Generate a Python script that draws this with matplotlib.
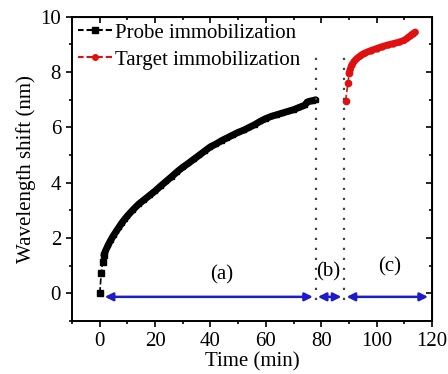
import numpy as np
import matplotlib.pyplot as plt
from matplotlib.lines import Line2D

# probe immobilization (black)
probe_t = [0, 0.5, 1, 1.5, 2, 3, 4, 5, 6, 7, 8, 9, 10, 12, 14, 16, 18, 20, 22, 24,
           26, 28, 30, 32, 34, 36, 38, 40, 42, 44, 46, 48, 50, 52, 54, 56, 58, 60,
           62, 64, 66, 68, 70, 72, 74, 75, 76, 77, 78]
probe_y = [0.0, 0.72, 1.12, 1.38, 1.52, 1.74, 1.93, 2.1, 2.25, 2.4, 2.55, 2.68, 2.8,
           3.02, 3.22, 3.38, 3.54, 3.7, 3.88, 4.05, 4.22, 4.4, 4.56, 4.7, 4.85, 5.0,
           5.15, 5.3, 5.4, 5.52, 5.62, 5.72, 5.82, 5.9, 6.0, 6.1, 6.22, 6.32, 6.4,
           6.46, 6.52, 6.58, 6.64, 6.72, 6.8, 6.92, 6.95, 6.97, 7.0]

# target immobilization (red)
target_t = [88.8, 89.7, 90.1, 90.5, 91, 92, 93, 94, 95, 96, 98, 100, 102, 104, 106,
            108, 110, 111, 112, 113, 114]
target_y = [6.96, 7.62, 7.96, 8.1, 8.25, 8.4, 8.5, 8.58, 8.65, 8.7, 8.78, 8.85, 8.92,
            8.98, 9.03, 9.08, 9.15, 9.22, 9.3, 9.38, 9.45]

# stage boundaries and labels
boundaries = [78.0, 88.3]
stage_spans = [(1.8, 77.0), (78.8, 87.3), (89.2, 118.6)]
stage_labels = ['(a)', '(b)', '(c)']
label_pos = [(44, 0.65), (82.5, 0.77), (104.8, 0.95)]

plt.rcParams['font.family'] = ['Liberation Serif', 'DejaVu Serif']
plt.rcParams['font.size'] = 15

black = 'black'
red = '#e01010'
blue = '#1c1cc8'

fig = plt.figure(figsize=(4.48, 3.74), dpi=100)
ax = fig.add_axes([0.161, 0.142, 0.803, 0.813])

# sparse start: thin dashed line with markers
ax.plot(probe_t[:4], probe_y[:4], color=black, lw=1.2, ls='--', marker='s', ms=4)
ax.plot(probe_t[3:], probe_y[3:], color=black, lw=5, solid_capstyle='round',
        solid_joinstyle='round')
ax.plot(probe_t[3:], probe_y[3:], color=black, lw=0, marker='s', ms=3.5)
ax.plot(target_t[:3], target_y[:3], color=red, lw=1.2, ls='--', marker='o', ms=4.5)
ax.plot(target_t[2:], target_y[2:], color=red, lw=5, solid_capstyle='round',
        solid_joinstyle='round')
ax.plot(target_t[2:], target_y[2:], color=red, lw=0, marker='o', ms=3.5)

for b in boundaries:
    ax.plot([b, b], [-0.25, 8.6], color='#444444', lw=1.6, ls=(0, (1, 3.5)))

for (x0, x1) in stage_spans:
    ax.annotate('', xy=(x1, -0.13), xytext=(x0, -0.13),
                arrowprops=dict(arrowstyle='<|-|>', color=blue, lw=1.8,
                                mutation_scale=12, shrinkA=0, shrinkB=0))
for lab, (x, y) in zip(stage_labels, label_pos):
    ax.text(x, y, lab, ha='center', va='center')

ax.set_xlim(-10, 120)
ax.set_ylim(-1, 10)
ax.set_xticks(np.arange(0, 121, 20))
ax.set_xticks(np.arange(-10, 121, 10), minor=True)
ax.set_yticks(np.arange(0, 11, 2))
ax.set_yticks(np.arange(-1, 11, 1), minor=True)
ax.tick_params(which='major', direction='out', length=4.5, width=1.2)
ax.tick_params(which='minor', direction='out', length=2.5, width=1.2)
for s in ax.spines.values():
    s.set_linewidth(1.4)

# mirrored inward ticks on top and right
top = ax.secondary_xaxis('top')
top.set_xticks(np.arange(0, 121, 20))
top.set_xticks(np.arange(-10, 121, 10), minor=True)
top.tick_params(which='major', direction='in', length=4.5, width=1.2, labeltop=False)
top.tick_params(which='minor', direction='in', length=2.5, width=1.2)
right = ax.secondary_yaxis('right')
right.set_yticks(np.arange(0, 11, 2))
right.set_yticks(np.arange(-1, 11, 1), minor=True)
right.tick_params(which='major', direction='in', length=4.5, width=1.2, labelright=False)
right.tick_params(which='minor', direction='in', length=2.5, width=1.2)

ax.set_xlabel('Time (min)', labelpad=1)
ax.set_ylabel('Wavelength shift (nm)', labelpad=3)

handles = [Line2D([], [], color=black, lw=1.5, ls=(0.5, (3.2, 1.4)), marker='s', ms=4),
           Line2D([], [], color=red, lw=1.5, ls=(0.5, (3.2, 1.4)), marker='o', ms=4)]
ax.legend(handles, ['Probe immobilization', 'Target immobilization'],
          loc='upper left', frameon=False, handlelength=1.6, handletextpad=0.15,
          borderaxespad=0.1, labelspacing=0.35, borderpad=0.2)

fig.savefig('out.png', dpi=100)
